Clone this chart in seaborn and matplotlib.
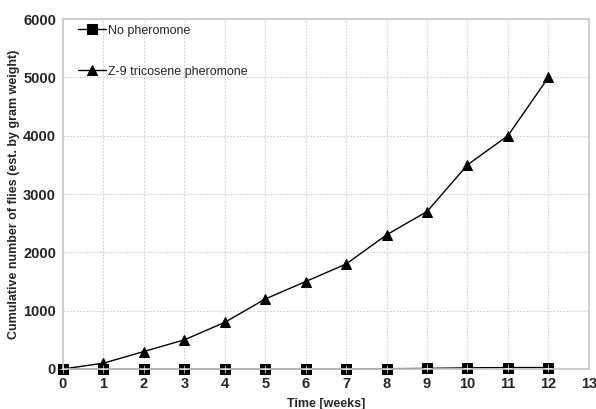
import matplotlib
matplotlib.use("Agg")
import matplotlib.pyplot as plt
import seaborn as sns
import pandas as pd

weeks = [0, 1, 2, 3, 4, 5, 6, 7, 8, 9, 10, 11, 12]
no_pheromone = [0, 0, 0, 0, 0, 0, 0, 0, 5, 10, 20, 25, 25]
z9_pheromone = [0, 100, 300, 500, 800, 1200, 1500, 1800, 2300, 2700, 3500, 4000, 5000]
series_names = ["No pheromone", "Z-9 tricosene pheromone"]
x_ticks = list(range(0, 14))
y_ticks = [0, 1000, 2000, 3000, 4000, 5000, 6000]

df = pd.DataFrame({
    "week": weeks * 2,
    "count": no_pheromone + z9_pheromone,
    "series": [series_names[0]] * len(weeks) + [series_names[1]] * len(weeks),
})

sns.set_style("white")
plt.rcParams["font.family"] = ["Liberation Sans", "DejaVu Sans"]

fig = plt.figure(figsize=(5.96, 4.09), dpi=100)
ax = fig.add_axes([0.1057, 0.0978, 0.8823, 0.8557])

sns.lineplot(data=df, x="week", y="count", hue="series", style="series",
             markers={series_names[0]: "s", series_names[1]: "^"},
             dashes=False, palette={series_names[0]: "black", series_names[1]: "black"},
             markersize=6.5, linewidth=1.0, markeredgecolor="black", ax=ax)
for ln in ax.lines:
    ln.set_clip_on(False)

# thin white cross on the square markers
df_no = df[df["series"] == series_names[0]]
sns.scatterplot(data=df_no, x="week", y="count", marker="+", color="white",
                s=30, linewidth=0.45, ax=ax, legend=False, clip_on=False, zorder=5)

ax.set_xlim(0, 13)
ax.set_ylim(0, 6000)
ax.set_xticks(x_ticks)
ax.set_yticks(y_ticks)
ax.grid(True, color="#d0d0d0", linestyle=(0, (1.5, 1.5)), linewidth=0.8)
ax.set_axisbelow(True)
for s in ax.spines.values():
    s.set_color("#c8c8c8")
    s.set_linewidth(1.2)
    s.set_visible(True)
ax.tick_params(axis="y", length=3, color="#c8c8c8", labelsize=10.5, pad=2)
ax.tick_params(axis="x", length=0, labelsize=10.5, pad=6)
for lbl in ax.get_xticklabels() + ax.get_yticklabels():
    lbl.set_fontweight("bold")
ax.set_xlabel("Time [weeks]", fontsize=9, fontweight="bold", labelpad=5)
ax.set_ylabel("Cumulative number of flies (est. by gram weight)", fontsize=9, fontweight="bold", labelpad=2)

leg = ax.legend(loc="upper left", frameon=False, fontsize=9, labelspacing=2.3,
                handlelength=2.2, handletextpad=0.15, bbox_to_anchor=(0.01, 1.012),
                borderaxespad=0.4)
leg.set_title(None)

fig.savefig("out.png", dpi=100)
